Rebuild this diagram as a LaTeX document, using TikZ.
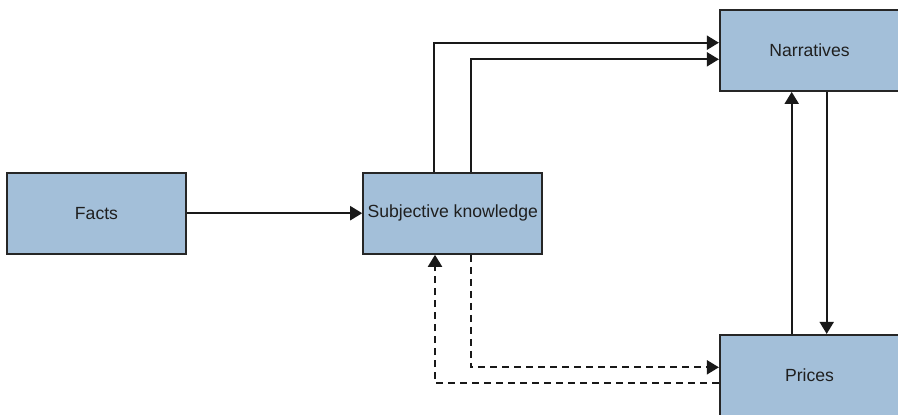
\documentclass[tikz,border=0pt]{standalone}
\usepackage{fontspec}
\setmainfont{Liberation Sans}
\usetikzlibrary{arrows.meta,calc}
\definecolor{boxfill}{HTML}{A3BFD9}
\definecolor{edge}{HTML}{262626}
\begin{document}
\begin{tikzpicture}[x=1pt,y=-1pt,
  box/.style={draw=edge,fill=boxfill,line width=2.2pt,minimum width=179pt,minimum height=81pt,
    inner sep=0pt,font=\fontsize{17.6}{20}\selectfont,text=black!88},
  link/.style={draw=black!90,line width=2pt,-{Triangle[length=12pt,width=14pt]}},
  dlink/.style={link,dash pattern=on 7pt off 5pt}]
\useasboundingbox (0,0) rectangle (898,415);
\node[box] (facts) at (96.5,213.2) {Facts};
\node[box] (subj)  at (452.8,213.2) {Subjective knowledge};
\node[box] (narr)  at (809.5,50.3) {Narratives};
\node[box] (price) at (809.5,375.5) {Prices};
% facts feed subjective knowledge
\draw[link] (facts.east) -- (subj.west);
% two paths from subjective knowledge up to narratives
\draw[link] ($(subj.north)+(-18.5,0)$) |- ($(narr.west)+(0,-7.6)$);
\draw[link] ($(subj.north)+(17.9,0)$) |- ($(narr.west)+(0,9)$);
% narratives and prices feed each other
\draw[link] ($(price.north)+(-17.8,0)$) -- ($(narr.south)+(-17.8,0)$);
\draw[link] ($(narr.south)+(17.2,0)$) -- ($(price.north)+(17.2,0)$);
% dashed loop between subjective knowledge and prices
\draw[dlink] ($(subj.south)+(17.9,0)$) |- ($(price.west)+(0,-8.2)$);
\draw[dlink] ($(price.west)+(0,7.8)$) -| ($(subj.south)+(-17.8,0)$);
\end{tikzpicture}
\end{document}
